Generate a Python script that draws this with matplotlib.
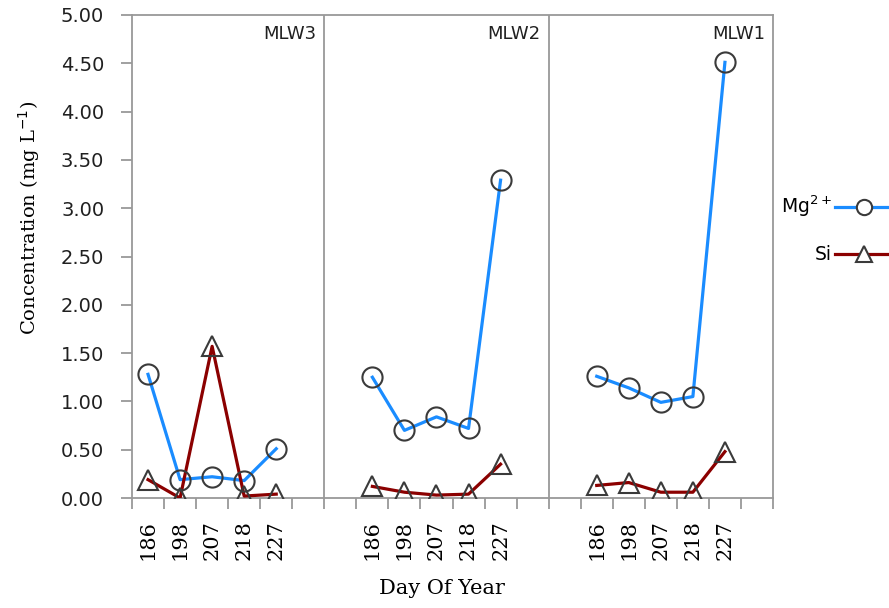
import matplotlib
matplotlib.use("Agg")
import matplotlib.pyplot as plt
from matplotlib.lines import Line2D
import numpy as np

days = ["186", "198", "207", "218", "227"]
sites = ["MLW3", "MLW2", "MLW1"]
mg_mlw3 = [1.28, 0.19, 0.22, 0.18, 0.51]
si_mlw3 = [0.19, 0.00, 1.57, 0.02, 0.04]
mg_mlw2 = [1.25, 0.70, 0.84, 0.72, 3.29]
si_mlw2 = [0.12, 0.06, 0.03, 0.04, 0.35]
mg_mlw1 = [1.26, 1.14, 0.99, 1.05, 4.51]
si_mlw1 = [0.13, 0.16, 0.06, 0.06, 0.48]
mg_series = [mg_mlw3, mg_mlw2, mg_mlw1]
si_series = [si_mlw3, si_mlw2, si_mlw1]
y_ticks = [0.0, 0.5, 1.0, 1.5, 2.0, 2.5, 3.0, 3.5, 4.0, 4.5, 5.0]

# category slots: panel1 = 5 days + 1 blank, panels 2/3 = blank + 5 days + blank
panel_start = [0, 7, 14]
separators = [6, 13]
n_slots = 20

blue = "#1a8cff"
red = "#8b0000"
grey = "#999999"
medge = "#3a3a3a"

fig = plt.figure(figsize=(8.89, 6.08), dpi=100)
ax = fig.add_axes([132/889, 1-498/608, (773-132)/889, (498-15)/608])

for k in range(3):
    xs = np.arange(len(days)) + panel_start[k] + 0.5
    ax.plot(xs, mg_series[k], color=blue, lw=2.3, zorder=3)
    ax.plot(xs, si_series[k], color=red, lw=2.3, zorder=3)
    ax.plot(xs, mg_series[k], ls="none", marker="o", ms=14.5, mfc="none",
            mec=medge, mew=1.5, zorder=4)
    ax.plot(xs, si_series[k], ls="none", marker="^", ms=15, mfc="none",
            mec=medge, mew=1.5, zorder=4)

for s in separators:
    ax.axvline(s, color=grey, lw=1.3, zorder=1)

ax.set_xlim(0, n_slots)
ax.set_ylim(0, 5)
ax.set_yticks(y_ticks)
ax.set_yticklabels([f"{v:.2f}" for v in y_ticks], fontsize=14,
                   family="DejaVu Sans", color="#202020")

# x ticks: marks at slot boundaries, labels at slot centers
ax.set_xticks(np.arange(0, n_slots + 1), minor=True)
centers = []
labels = []
for k in range(3):
    for i, d in enumerate(days):
        centers.append(panel_start[k] + i + 0.5)
        labels.append(d)
ax.set_xticks(centers)
ax.set_xticklabels(labels, rotation=90, fontsize=15, family="DejaVu Serif")
ax.tick_params(axis="x", which="major", length=0, pad=16)
ax.tick_params(axis="x", which="minor", length=8, width=1.3, color=grey, direction="out")
ax.tick_params(axis="y", length=8, width=1.3, color=grey, direction="out", pad=12)

for sp in ax.spines.values():
    sp.set_color(grey)
    sp.set_linewidth(1.3)

for k, name in enumerate(sites):
    right = separators[k] if k < 2 else n_slots
    ax.text(right - 0.25, 4.80, name, ha="right", va="center", fontsize=13,
            family="DejaVu Sans", color="#202020")

fig.text(29/889, 1-218/608, "Concentration (mg L$^{-1}$)", family="DejaVu Serif",
         fontsize=14, rotation=90, ha="center", va="center")
fig.text(442/889, 1-589/608, "Day Of Year", family="DejaVu Serif",
         fontsize=15, ha="center", va="center")

handles = [
    Line2D([], [], color=blue, lw=2.3, marker="o", ms=11, mfc="white", mec=medge, mew=1.5),
    Line2D([], [], color=red, lw=2.3, marker="^", ms=11, mfc="white", mec=medge, mew=1.5),
]
fig.legend(handles, ["Mg$^{2+}$", "Si"], loc="center left",
           bbox_to_anchor=(764/889, 1-229/608), frameon=False, markerfirst=False,
           handlelength=3.0, labelspacing=1.4, handletextpad=0.2,
           prop={"family": "DejaVu Sans", "size": 13.5})

fig.savefig("out.png", dpi=100)
